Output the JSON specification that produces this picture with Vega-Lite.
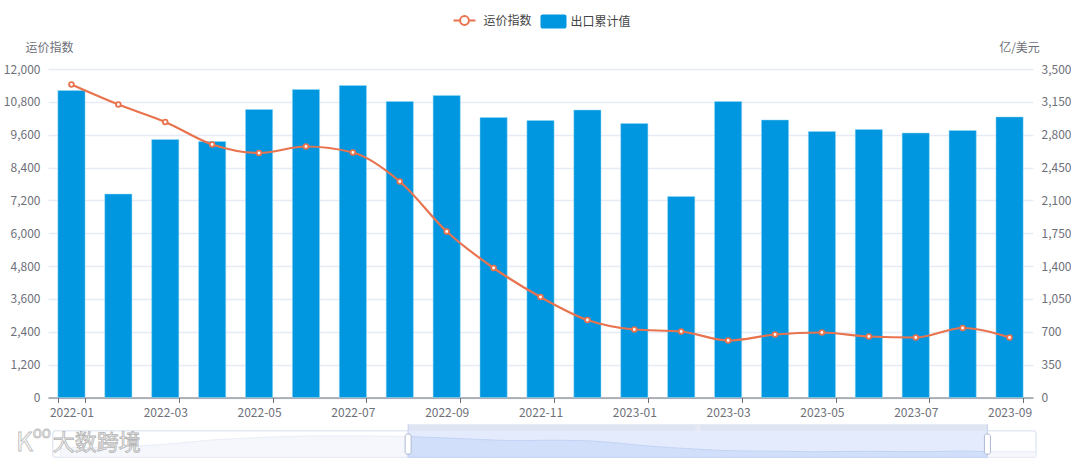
{
  "$schema": "https://vega.github.io/schema/vega-lite/v6.json",
  "padding": {"left": 3, "top": 8, "right": 0, "bottom": 0},
  "background": "white",
  "config": {
    "font": "Noto Sans CJK SC",
    "view": {"stroke": null},
    "concat": {"spacing": 3.5}
  },
  "datasets": {
    "main": [
      {"month": "2022-01", "index": 11434, "exports": 3271},
      {"month": "2022-02", "index": 10703, "exports": 2168},
      {"month": "2022-03", "index": 10064, "exports": 2749},
      {"month": "2022-04", "index": 9242, "exports": 2727},
      {"month": "2022-05", "index": 8932, "exports": 3068},
      {"month": "2022-06", "index": 9169, "exports": 3282},
      {"month": "2022-07", "index": 8950, "exports": 3324},
      {"month": "2022-08", "index": 7890, "exports": 3154},
      {"month": "2022-09", "index": 6064, "exports": 3218},
      {"month": "2022-10", "index": 4731, "exports": 2983},
      {"month": "2022-11", "index": 3671, "exports": 2951},
      {"month": "2022-12", "index": 2831, "exports": 3063},
      {"month": "2023-01", "index": 2484, "exports": 2919},
      {"month": "2023-02", "index": 2411, "exports": 2142},
      {"month": "2023-03", "index": 2082, "exports": 3154},
      {"month": "2023-04", "index": 2301, "exports": 2957},
      {"month": "2023-05", "index": 2374, "exports": 2834},
      {"month": "2023-06", "index": 2228, "exports": 2855},
      {"month": "2023-07", "index": 2192, "exports": 2818},
      {"month": "2023-08", "index": 2539, "exports": 2845},
      {"month": "2023-09", "index": 2192, "exports": 2989}
    ],
    "overview": [
      {"date": "2021-01-01", "index": 4280},
      {"date": "2021-02-01", "index": 4860},
      {"date": "2021-03-01", "index": 5150},
      {"date": "2021-04-01", "index": 6010},
      {"date": "2021-05-01", "index": 7165},
      {"date": "2021-06-01", "index": 8900},
      {"date": "2021-07-01", "index": 10050},
      {"date": "2021-08-01", "index": 10900},
      {"date": "2021-09-01", "index": 11490},
      {"date": "2021-10-01", "index": 11780},
      {"date": "2021-11-01", "index": 11780},
      {"date": "2021-12-01", "index": 11660},
      {"date": "2022-01-01", "index": 11434},
      {"date": "2022-02-01", "index": 10703},
      {"date": "2022-03-01", "index": 10064},
      {"date": "2022-04-01", "index": 9242},
      {"date": "2022-05-01", "index": 8932},
      {"date": "2022-06-01", "index": 9169},
      {"date": "2022-07-01", "index": 8950},
      {"date": "2022-08-01", "index": 7890},
      {"date": "2022-09-01", "index": 6064},
      {"date": "2022-10-01", "index": 4731},
      {"date": "2022-11-01", "index": 3671},
      {"date": "2022-12-01", "index": 2831},
      {"date": "2023-01-01", "index": 2484},
      {"date": "2023-02-01", "index": 2411},
      {"date": "2023-03-01", "index": 2082},
      {"date": "2023-04-01", "index": 2301},
      {"date": "2023-05-01", "index": 2374},
      {"date": "2023-06-01", "index": 2228},
      {"date": "2023-07-01", "index": 2192},
      {"date": "2023-08-01", "index": 2539},
      {"date": "2023-09-01", "index": 2192},
      {"date": "2023-10-01", "index": 2192},
      {"date": "2023-10-22", "index": 2192}
    ]
  },
  "vconcat": [
    {
      "width": 985,
      "height": 328.5,
      "data": {"name": "main"},
      "encoding": {
        "x": {
          "field": "month",
          "type": "ordinal",
          "sort": null,
          "scale": {"paddingInner": 0.42, "paddingOuter": 0.21},
          "axis": {
            "title": null,
            "labelAngle": 0,
            "values": ["2022-01", "2022-03", "2022-05", "2022-07", "2022-09", "2022-11", "2023-01", "2023-03", "2023-05", "2023-07", "2023-09"],
            "tickBand": "extent",
            "labelColor": "#6E7079",
            "labelFontSize": 12,
            "labelPadding": 5,
            "tickColor": "#6E7079",
            "tickSize": 5,
            "domainColor": "#6E7079",
            "grid": false
          }
        }
      },
      "layer": [
        {
          "mark": {"type": "bar", "stroke": "#9BDDF5", "strokeWidth": 0.5},
          "encoding": {
            "y": {
              "field": "exports",
              "type": "quantitative",
              "scale": {"domain": [0, 3500]},
              "axis": {
                "orient": "right",
                "title": "亿/美元",
                "titleAngle": 0,
                "titleAlign": "center",
                "titleBaseline": "middle",
                "titleX": -14,
                "titleY": -22,
                "titleColor": "#6E7079",
                "titleFontSize": 12,
                "titleFontWeight": "normal",
                "values": [0, 350, 700, 1050, 1400, 1750, 2100, 2450, 2800, 3150, 3500],
                "format": ",d",
                "labelColor": "#6E7079",
                "labelFontSize": 12,
                "labelPadding": 8,
                "domain": false,
                "ticks": false,
                "grid": false
              }
            },
            "fill": {
              "datum": "出口累计值",
              "scale": {"range": ["#0096E0"]},
              "legend": {
                "title": null,
                "orient": "none",
                "legendX": 492.5,
                "legendY": -60.5,
                "symbolType": "M-1,-0.38 a0.16,0.16 0 0 1 0.16,-0.16 h1.68 a0.16,0.16 0 0 1 0.16,0.16 v0.76 a0.16,0.16 0 0 1 -0.16,0.16 h-1.68 a0.16,0.16 0 0 1 -0.16,-0.16 z",
                "symbolSize": 676,
                "symbolStrokeWidth": 0,
                "labelFontSize": 12,
                "labelColor": "#444444",
                "labelOffset": 4
              }
            }
          }
        },
        {
          "mark": {
            "type": "line",
            "interpolate": "monotone",
            "strokeWidth": 2.2,
            "point": {"filled": false, "fill": "white", "size": 22, "strokeWidth": 1.8}
          },
          "encoding": {
            "y": {
              "field": "index",
              "type": "quantitative",
              "scale": {"domain": [0, 12000]},
              "axis": {
                "orient": "left",
                "title": "运价指数",
                "titleAngle": 0,
                "titleAlign": "center",
                "titleBaseline": "middle",
                "titleX": 1,
                "titleY": -22,
                "titleColor": "#6E7079",
                "titleFontSize": 12,
                "titleFontWeight": "normal",
                "values": [0, 1200, 2400, 3600, 4800, 6000, 7200, 8400, 9600, 10800, 12000],
                "format": ",d",
                "labelColor": "#6E7079",
                "labelFontSize": 12,
                "labelPadding": 8,
                "domain": false,
                "ticks": false,
                "grid": true,
                "gridColor": "#E6EBF5",
                "gridWidth": 1.5
              }
            },
            "stroke": {
              "datum": "运价指数",
              "scale": {"range": ["#E8734E"]},
              "legend": {
                "title": null,
                "orient": "none",
                "legendX": 404.5,
                "legendY": -60.5,
                "symbolType": "M-1,0 L-0.4,0 M0.4,0 L1,0 M0.4,0 A0.4,0.4 0 1 1 -0.4,0 A0.4,0.4 0 1 1 0.4,0 Z",
                "symbolSize": 484,
                "symbolStrokeWidth": 2,
                "symbolFillColor": "white",
                "labelFontSize": 12,
                "labelColor": "#444444",
                "labelOffset": 7
              }
            }
          }
        }
      ],
      "resolve": {"scale": {"y": "independent"}}
    },
    {
      "width": 988,
      "height": 36,
      "data": {"name": "overview"},
      "encoding": {
        "x": {
          "field": "date",
          "type": "temporal",
          "scale": {"type": "utc", "domain": ["2020-12-19", "2023-10-22"]},
          "axis": null
        }
      },
      "layer": [
        {
          "data": {"values": [{"from": "2020-12-24", "to": "2023-10-22"}]},
          "mark": {"type": "rect", "fill": "#FFFFFF", "stroke": "#E4E9F4", "strokeWidth": 1.5, "cornerRadius": 3},
          "encoding": {
            "x": {"field": "from", "type": "temporal"},
            "x2": {"field": "to"},
            "y": {"datum": 14900, "type": "quantitative", "scale": {"domain": [-1270, 18940]}, "axis": null},
            "y2": {"datum": -1270}
          }
        },
        {
          "transform": [{"filter": "time(datum.date) <= time('2022-01-01') || time(datum.date) >= time('2023-09-01')"}],
          "mark": {"type": "area", "interpolate": "monotone", "fill": "#F5F7FC", "stroke": "#E9EDF7", "strokeWidth": 1},
          "encoding": {
            "y": {"field": "index", "type": "quantitative", "axis": null},
            "y2": {"datum": -1270}
          }
        },
        {
          "data": {"values": [{"from": "2022-01-01", "to": "2023-09-01"}]},
          "mark": {"type": "rect", "fill": "#E3EBFC"},
          "encoding": {
            "x": {"field": "from", "type": "temporal"},
            "x2": {"field": "to"},
            "y": {"datum": 14900, "type": "quantitative"},
            "y2": {"datum": -1270}
          }
        },
        {
          "data": {"values": [{"from": "2022-01-01", "to": "2023-09-01"}]},
          "mark": {"type": "rect", "fill": "#DFE4F3"},
          "encoding": {
            "x": {"field": "from", "type": "temporal"},
            "x2": {"field": "to"},
            "y": {"datum": 18940, "type": "quantitative"},
            "y2": {"datum": 14900}
          }
        },
        {
          "transform": [{"filter": "time(datum.date) >= time('2022-01-01') && time(datum.date) <= time('2023-09-01')"}],
          "mark": {"type": "area", "interpolate": "monotone", "fill": "#D2DFFB", "stroke": "#C3D3F6", "strokeWidth": 1},
          "encoding": {
            "y": {"field": "index", "type": "quantitative"},
            "y2": {"datum": -1270}
          }
        },
        {
          "data": {"values": [{"edge": "2022-01-01"}, {"edge": "2023-09-01"}]},
          "mark": {"type": "rule", "color": "#C5D0EA", "strokeWidth": 1},
          "encoding": {
            "x": {"field": "edge", "type": "temporal"},
            "y": {"datum": 18940, "type": "quantitative"},
            "y2": {"datum": -1270}
          }
        },
        {
          "data": {"values": [{"edge": "2022-01-01"}, {"edge": "2023-09-01"}]},
          "mark": {"type": "tick", "orient": "vertical", "thickness": 6, "size": 20, "fill": "#FFFFFF", "stroke": "#ACB8D1", "strokeWidth": 1, "opacity": 1, "cornerRadius": 2},
          "encoding": {
            "x": {"field": "edge", "type": "temporal"},
            "y": {"datum": 6800, "type": "quantitative"}
          }
        },
        {
          "data": {"values": [{"at": "2022-11-01", "label": "|||"}]},
          "mark": {"type": "text", "color": "#FFFFFF", "fontSize": 6, "opacity": 0.8},
          "encoding": {
            "x": {"field": "at", "type": "temporal"},
            "y": {"datum": 16900, "type": "quantitative"},
            "text": {"field": "label"}
          }
        },
        {
          "data": {"values": [{"at": "2020-12-24", "label": "大数跨境"}]},
          "mark": {"type": "text", "align": "left", "fontSize": 22, "fill": "#F8F8F8", "stroke": "#B4B4B4", "strokeWidth": 0.8},
          "encoding": {
            "x": {"field": "at", "type": "temporal"},
            "y": {"datum": 7400, "type": "quantitative"},
            "text": {"field": "label"}
          }
        },
        {
          "data": {"values": [{"at": "2020-12-03", "label": "K"}]},
          "mark": {"type": "text", "align": "right", "fontSize": 26, "fill": "#F8F8F8", "stroke": "#BDBDBD", "strokeWidth": 0.8},
          "encoding": {
            "x": {"field": "at", "type": "temporal"},
            "y": {"datum": 7400, "type": "quantitative"},
            "text": {"field": "label"}
          }
        },
        {
          "data": {"values": [{"at": "2020-12-03", "label": "oo"}]},
          "mark": {"type": "text", "align": "left", "fontSize": 15, "fill": "#F8F8F8", "stroke": "#BDBDBD", "strokeWidth": 0.8},
          "encoding": {
            "x": {"field": "at", "type": "temporal"},
            "y": {"datum": 13750, "type": "quantitative"},
            "text": {"field": "label"}
          }
        }
      ],
      "resolve": {"scale": {"y": "shared"}}
    }
  ]
}
